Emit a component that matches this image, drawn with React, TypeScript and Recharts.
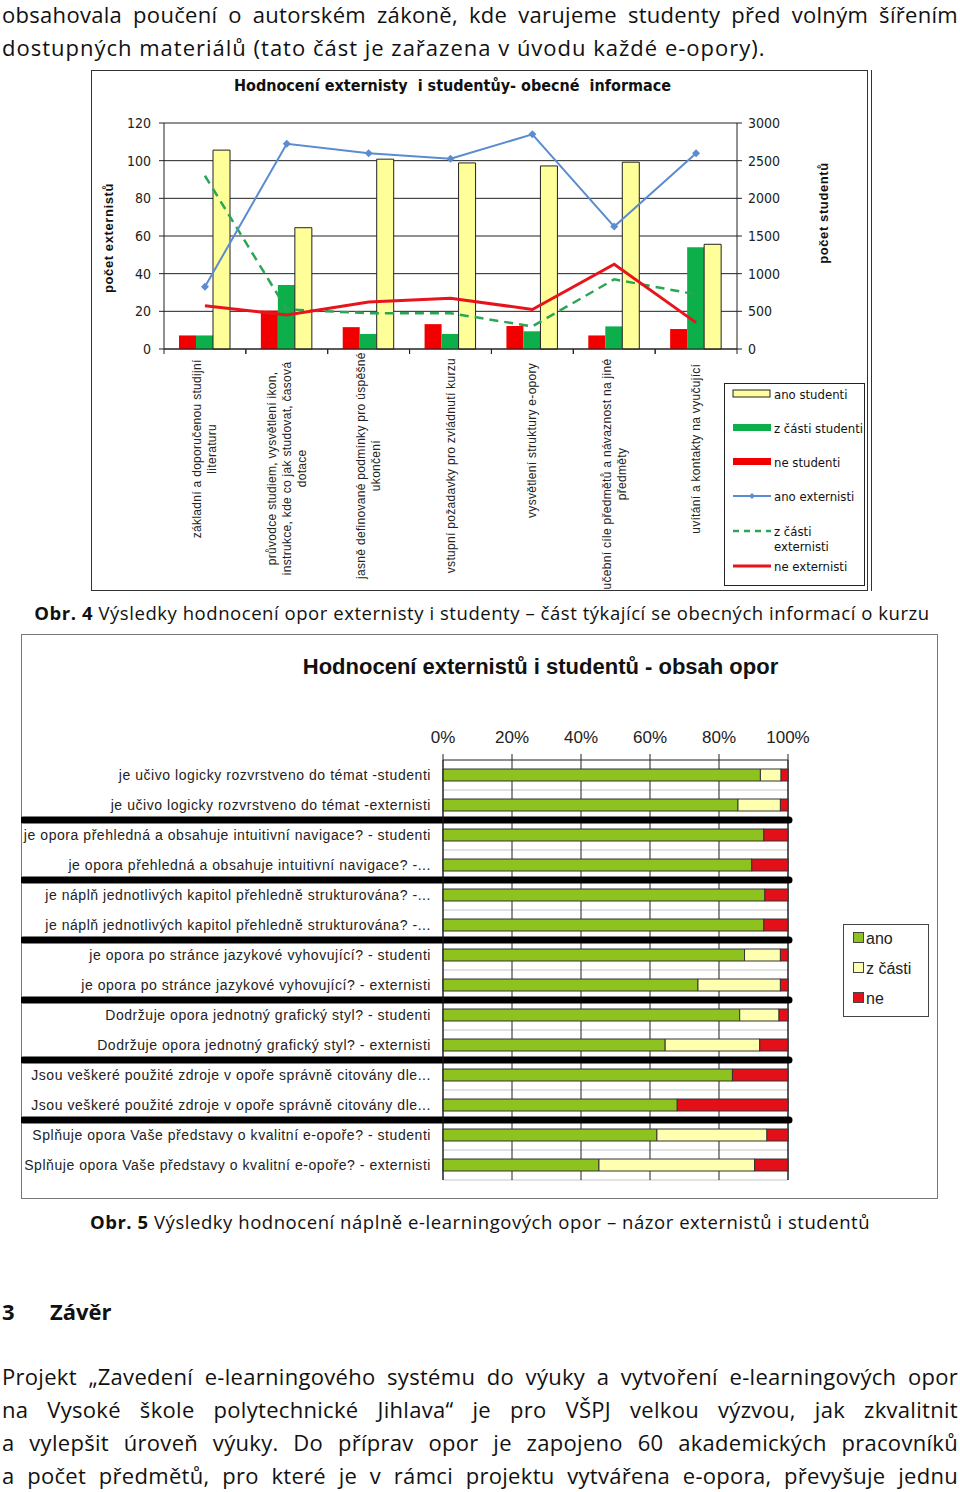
import React from 'react'
import { ComposedChart, BarChart, Bar, Line, XAxis, YAxis, CartesianGrid } from 'recharts'

// ---- graf 1: obecné informace ----
const topics = [
  'základní a doporučenou studijní\nliteraturu',
  'průvodce studiem, vysvětlení ikon,\ninstrukce, kde co jak studovat, časová\ndotace',
  'jasně definované podmínky pro úspěšné\nukončení',
  'vstupní požadavky pro zvládnutí kurzu',
  'vysvětlení struktury e-opory',
  'učební cíle předmětů a návaznost na jiné\npředměty',
  'uvítání a kontakty na vyučující'
]
const anoStudenti = [2640, 1610, 2520, 2470, 2430, 2480, 1390]
const zCastiStudenti = [180, 850, 200, 200, 235, 300, 1350]
const neStudenti = [180, 510, 290, 330, 305, 180, 265]
const anoExternisti = [33, 109, 104, 101, 114, 65, 104]
const zCastiExternisti = [92, 21, 19, 19, 12, 37, 29]
const neExternisti = [23, 18, 25, 27, 21, 45, 14]
const externistiTicks = [0, 20, 40, 60, 80, 100, 120]
const studentiTicks = [0, 500, 1000, 1500, 2000, 2500, 3000]

// ---- graf 2: obsah opor ----
const questions = [
  'je učivo logicky rozvrstveno do témat -studenti',
  'je učivo logicky rozvrstveno do témat -externisti',
  'je opora přehledná a obsahuje intuitivní navigace? - studenti',
  'je opora přehledná a obsahuje intuitivní navigace? -...',
  'je náplň jednotlivých kapitol přehledně strukturována? -...',
  'je náplň jednotlivých kapitol přehledně strukturována? -...',
  'je opora po stránce jazykové vyhovující? - studenti',
  'je opora po stránce jazykové vyhovující? - externisti',
  'Dodržuje opora jednotný grafický styl? - studenti',
  'Dodržuje opora jednotný grafický styl? - externisti',
  'Jsou veškeré použité zdroje v opoře správně citovány dle...',
  'Jsou veškeré použité zdroje v opoře správně citovány dle...',
  'Splňuje opora Vaše představy o kvalitní e-opoře? - studenti',
  'Splňuje opora Vaše představy o kvalitní e-opoře? - externisti'
]
const ano = [92, 85.5, 93, 89.5, 93.3, 93, 87.4, 73.9, 86, 64.4, 83.9, 67.9, 62, 45.2]
const zCasti = [6, 12.3, 0, 0, 0, 0, 10.4, 23.9, 11.4, 27.4, 0, 0, 31.9, 45.1]
const ne = [2, 2.2, 7, 10.5, 6.7, 7, 2.2, 2.2, 2.6, 8.2, 16.1, 32.1, 6.1, 9.7]
const pctTicks = [0, 20, 40, 60, 80, 100]

const data1 = topics.map((t, i) => ({
  topic: t,
  neS: neStudenti[i],
  zcS: zCastiStudenti[i],
  anoS: anoStudenti[i],
  anoE: anoExternisti[i],
  zcE: zCastiExternisti[i],
  neE: neExternisti[i]
}))
const data2 = questions.map((q, i) => ({ id: i, q, ano: ano[i], zc: zCasti[i], ne: ne[i] }))

const NARROW = "'Liberation Sans Narrow', 'Arial Narrow', 'DejaVu Sans Condensed', sans-serif"
const ARIAL = "'Liberation Sans', Arial, sans-serif"
const BODY = "'Open Sans', 'Noto Sans', sans-serif"

const YELLOW = '#FFFF99'
const GREEN = '#0DAF4B'
const RED = '#F20000'
const BLUE = '#5B8BD0'

const W1 = 777, H1 = 521
const PLOT1_W = 573
const W2 = 917, H2 = 565
const PLOT2_H = 420

const TopicTick = (props: any) => {
  const { x, y, payload } = props
  const lines: string[] = String(payload.value).split('\n')
  const maxLen = Math.max(...lines.map((l) => l.length))
  const band = PLOT1_W / topics.length
  const cy = y + 13 + maxLen * 2.8
  const n = lines.length
  return (
    <g>
      <line x1={x - band / 2} x2={x - band / 2} y1={y} y2={y + 5} stroke="#222" />
      <line x1={x + band / 2} x2={x + band / 2} y1={y} y2={y + 5} stroke="#222" />
      {lines.map((l, i) => (
        <text
          key={i}
          transform={`translate(${x + (i - (n - 1) / 2) * 15},${cy}) rotate(-90)`}
          textAnchor="middle"
          dominantBaseline="central"
          fontFamily={ARIAL}
          fontSize={12}
          letterSpacing={0.3}
          fill="#222"
        >
          {l}
        </text>
      ))}
    </g>
  )
}

const Diamond = (props: any) => {
  const { cx, cy } = props
  if (cx == null || cy == null) return null
  return <path d={`M${cx},${cy - 4}L${cx + 4},${cy}L${cx},${cy + 4}L${cx - 4},${cy}Z`} fill={BLUE} />
}

const NeShape = (props: any) => {
  const { x, y, width, height, index } = props
  const rowH = PLOT2_H / questions.length
  const sy = y + height / 2 + rowH / 2
  const sep = index % 2 === 1 && index < questions.length - 1
  return (
    <g>
      {width > 0 && <rect x={x} y={y} width={width} height={height} fill="#E3101A" stroke="#333" strokeWidth={1} />}
      {sep && <line x1={2} x2={768} y1={sy} y2={sy} stroke="#000" strokeWidth={7} strokeLinecap="round" />}
    </g>
  )
}

const LegendItem1 = ({ top, icon, label }: { top: number; icon: React.ReactNode; label: React.ReactNode }) => (
  <div style={{ position: 'absolute', left: 7, top, display: 'flex', alignItems: 'flex-start' }}>
    <svg width={40} height={14} style={{ flex: 'none' }}>{icon}</svg>
    <span style={{ marginLeft: 2, fontFamily: NARROW, fontSize: 13, lineHeight: '15px', color: '#111', whiteSpace: 'nowrap' }}>{label}</span>
  </div>
)

const Square = ({ color }: { color: string }) => (
  <span style={{ display: 'inline-block', width: 9, height: 9, background: color, border: '1px solid #444', marginRight: 2, verticalAlign: 'middle', position: 'relative', top: -2 }} />
)

const paragraph = [
  'Projekt „Zavedení e-learningového systému do výuky a vytvoření e-learningových opor',
  'na Vysoké škole polytechnické Jihlava“ je pro VŠPJ velkou výzvou, jak zkvalitnit',
  'a vylepšit úroveň výuky. Do příprav opor je zapojeno 60 akademických pracovníků',
  'a počet předmětů, pro které je v rámci projektu vytvářena e-opora, převyšuje jednu'
]

const bodyText: React.CSSProperties = { position: 'absolute', left: 2, width: 956, fontSize: 22, letterSpacing: 0.3, lineHeight: '32px' }
const justified: React.CSSProperties = { textAlign: 'justify', textAlignLast: 'justify' }
const caption: React.CSSProperties = { position: 'absolute', left: 0, width: 960, textAlign: 'center', fontSize: 18.5, letterSpacing: 0.55, lineHeight: '26px' }

export default function App() {
  return (
    <div style={{ position: 'absolute', left: 0, top: 0, width: 960, height: 1492, overflow: 'hidden', background: '#fff', fontFamily: BODY, color: '#111' }}>
      <div style={{ ...bodyText, ...justified, top: -2 }}>
        obsahovala poučení o autorském zákoně, kde varujeme studenty před volným šířením
      </div>
      <div style={{ ...bodyText, top: 31, letterSpacing: 1.0 }}>
        dostupných materiálů (tato část je zařazena v úvodu každé e-opory).
      </div>

      {/* Graf 1 */}
      <div style={{ position: 'absolute', left: 91, top: 70, width: W1, height: H1, border: '1px solid #333', boxSizing: 'border-box', boxShadow: '3px 0 0 #fff, 4px 0 0 #333' }}>
        <div style={{ position: 'absolute', left: 0, width: W1 - 56, top: 5, textAlign: 'center', fontFamily: NARROW, fontWeight: 700, fontSize: 16, whiteSpace: 'pre', color: '#111' }}>
          {'Hodnocení externisty  i studentůy- obecné  informace'}
        </div>
        <div style={{ position: 'absolute', left: 6, top: 167, width: 0, height: 0 }}>
          <div style={{ position: 'absolute', left: 10, top: 0, transform: 'translate(-50%,-50%) rotate(-90deg)', whiteSpace: 'nowrap', fontFamily: ARIAL, fontWeight: 700, fontSize: 13, letterSpacing: 0.6 }}>počet externistů</div>
        </div>
        <div style={{ position: 'absolute', left: 721, top: 142, width: 0, height: 0 }}>
          <div style={{ position: 'absolute', left: 10, top: 0, transform: 'translate(-50%,-50%) rotate(-90deg)', whiteSpace: 'nowrap', fontFamily: ARIAL, fontWeight: 700, fontSize: 13, letterSpacing: 0.6 }}>počet studentů</div>
        </div>
        <div style={{ position: 'absolute', left: 0, top: 0 }}>
          <ComposedChart width={W1 - 2} height={H1 - 2} data={data1} margin={{ top: 52, right: 80, bottom: 9, left: 32 }} barGap={0} barCategoryGap={15}>
            <CartesianGrid yAxisId="ext" vertical={false} stroke="#222" strokeWidth={1} />
            <XAxis dataKey="topic" interval={0} tickSize={0} tickMargin={0} height={232} tick={<TopicTick />} axisLine={{ stroke: '#222' }} tickLine={false} />
            <YAxis yAxisId="ext" domain={[0, 120]} ticks={externistiTicks} width={40} tickSize={5} tickMargin={8} axisLine={{ stroke: '#222' }} tickLine={{ stroke: '#222' }} tick={{ fontFamily: NARROW, fontSize: 14, fill: '#222' }} />
            <YAxis yAxisId="stud" orientation="right" domain={[0, 3000]} ticks={studentiTicks} width={50} tickSize={5} tickMargin={6} axisLine={{ stroke: '#222' }} tickLine={{ stroke: '#222' }} tick={{ fontFamily: NARROW, fontSize: 14, fill: '#222', textAnchor: 'start' }} />
            <Bar yAxisId="stud" dataKey="neS" name="ne studenti" fill={RED} barSize={17} isAnimationActive={false} />
            <Bar yAxisId="stud" dataKey="zcS" name="z části studenti" fill={GREEN} barSize={17} isAnimationActive={false} />
            <Bar yAxisId="stud" dataKey="anoS" name="ano studenti" fill={YELLOW} stroke="#222" strokeWidth={1} barSize={17} isAnimationActive={false} />
            <Line yAxisId="ext" dataKey="zcE" name="z části externisti" stroke="#2AA654" strokeWidth={2.5} strokeDasharray="9 6" dot={false} isAnimationActive={false} />
            <Line yAxisId="ext" dataKey="neE" name="ne externisti" stroke="#E8141C" strokeWidth={3} dot={false} isAnimationActive={false} />
            <Line yAxisId="ext" dataKey="anoE" name="ano externisti" stroke={BLUE} strokeWidth={2} dot={<Diamond />} isAnimationActive={false} />
          </ComposedChart>
        </div>
        <div style={{ position: 'absolute', left: 632, top: 312, width: 141, height: 203, border: '1px solid #222', boxSizing: 'border-box', background: '#fff' }}>
          <LegendItem1 top={3} label="ano studenti" icon={<rect x={1} y={3} width={37} height={7} fill={YELLOW} stroke="#222" />} />
          <LegendItem1 top={37} label="z části studenti" icon={<rect x={1} y={3} width={38} height={7} fill={GREEN} />} />
          <LegendItem1 top={71} label="ne studenti" icon={<rect x={1} y={3} width={38} height={7} fill={RED} />} />
          <LegendItem1 top={105} label="ano externisti" icon={<g><line x1={1} x2={39} y1={7} y2={7} stroke={BLUE} strokeWidth={2} /><path d="M20,4L23,7L20,10L17,7Z" fill={BLUE} /></g>} />
          <LegendItem1 top={140} label={<span>z části<br />externisti</span>} icon={<line x1={1} x2={39} y1={7} y2={7} stroke="#2AA654" strokeWidth={2.5} strokeDasharray="6 5" />} />
          <LegendItem1 top={175} label="ne externisti" icon={<line x1={1} x2={39} y1={7} y2={7} stroke="#E8141C" strokeWidth={3} />} />
        </div>
      </div>

      <div style={{ ...caption, top: 600, paddingLeft: 2 }}>
        <b>Obr. 4</b> Výsledky hodnocení opor externisty i studenty – část týkající se obecných informací o kurzu
      </div>

      {/* Graf 2 */}
      <div style={{ position: 'absolute', left: 21, top: 634, width: W2, height: H2, border: '1px solid #777', boxSizing: 'border-box' }}>
        <div style={{ position: 'absolute', left: 0, width: W2, top: 19, textAlign: 'center', fontFamily: ARIAL, fontWeight: 700, fontSize: 22, color: '#111', paddingLeft: 60 }}>
          Hodnocení externistů i studentů - obsah opor
        </div>
        <div style={{ position: 'absolute', left: -1, top: -1 }}>
          <BarChart width={W2} height={H2} data={data2} layout="vertical" margin={{ top: 96, right: 150, bottom: 19, left: 22 }}>
            <CartesianGrid
              vertical={false}
              stroke="#c4c4c4"
              horizontalCoordinatesGenerator={({ offset }: any) =>
                questions.map((_, i) => offset.top + ((i + 1) * offset.height) / questions.length)
              }
            />
            <CartesianGrid horizontal={false} stroke="#222" />
            <XAxis type="number" orientation="top" domain={[0, 100]} ticks={pctTicks} tickFormatter={(v) => `${v}%`} height={30} tickSize={6} tickMargin={11} axisLine={{ stroke: '#222' }} tickLine={{ stroke: '#222' }} tick={{ fontFamily: ARIAL, fontSize: 17, fill: '#222' }} />
            <YAxis type="category" dataKey="q" width={400} interval={0} tickSize={5} tickMargin={7} axisLine={{ stroke: '#222' }} tickLine={false} tick={{ fontFamily: ARIAL, fontSize: 14, letterSpacing: 0.55, fill: '#222' }} />
            <Bar dataKey="ano" name="ano" stackId="s" fill="#8DC21F" stroke="#333" strokeWidth={1} barSize={12} isAnimationActive={false} />
            <Bar dataKey="zc" name="z části" stackId="s" fill="#FFFFB0" stroke="#333" strokeWidth={1} barSize={12} isAnimationActive={false} />
            <Bar dataKey="ne" name="ne" stackId="s" fill="#E3101A" barSize={12} shape={<NeShape />} isAnimationActive={false} />
          </BarChart>
        </div>
        <div style={{ position: 'absolute', left: 821, top: 289, width: 86, height: 93, border: '1px solid #444', boxSizing: 'border-box', fontFamily: ARIAL, fontSize: 16, color: '#222', background: '#fff' }}>
          <div style={{ position: 'absolute', left: 9, top: 5 }}><Square color="#8DC21F" />ano</div>
          <div style={{ position: 'absolute', left: 9, top: 35 }}><Square color="#FFFFB0" />z části</div>
          <div style={{ position: 'absolute', left: 9, top: 65 }}><Square color="#E3101A" />ne</div>
        </div>
      </div>

      <div style={{ ...caption, top: 1209 }}>
        <b>Obr. 5</b> Výsledky hodnocení náplně e-learningových opor – názor externistů i studentů
      </div>

      <div style={{ position: 'absolute', left: 2, top: 1295, fontSize: 22, fontWeight: 700, lineHeight: '32px' }}>3</div>
      <div style={{ position: 'absolute', left: 50, top: 1295, fontSize: 22, fontWeight: 700, lineHeight: '32px' }}>Závěr</div>

      {paragraph.map((t, i) => (
        <div key={i} style={{ ...bodyText, ...justified, top: 1360 + i * 33 }}>
          {t}
        </div>
      ))}
    </div>
  )
}
